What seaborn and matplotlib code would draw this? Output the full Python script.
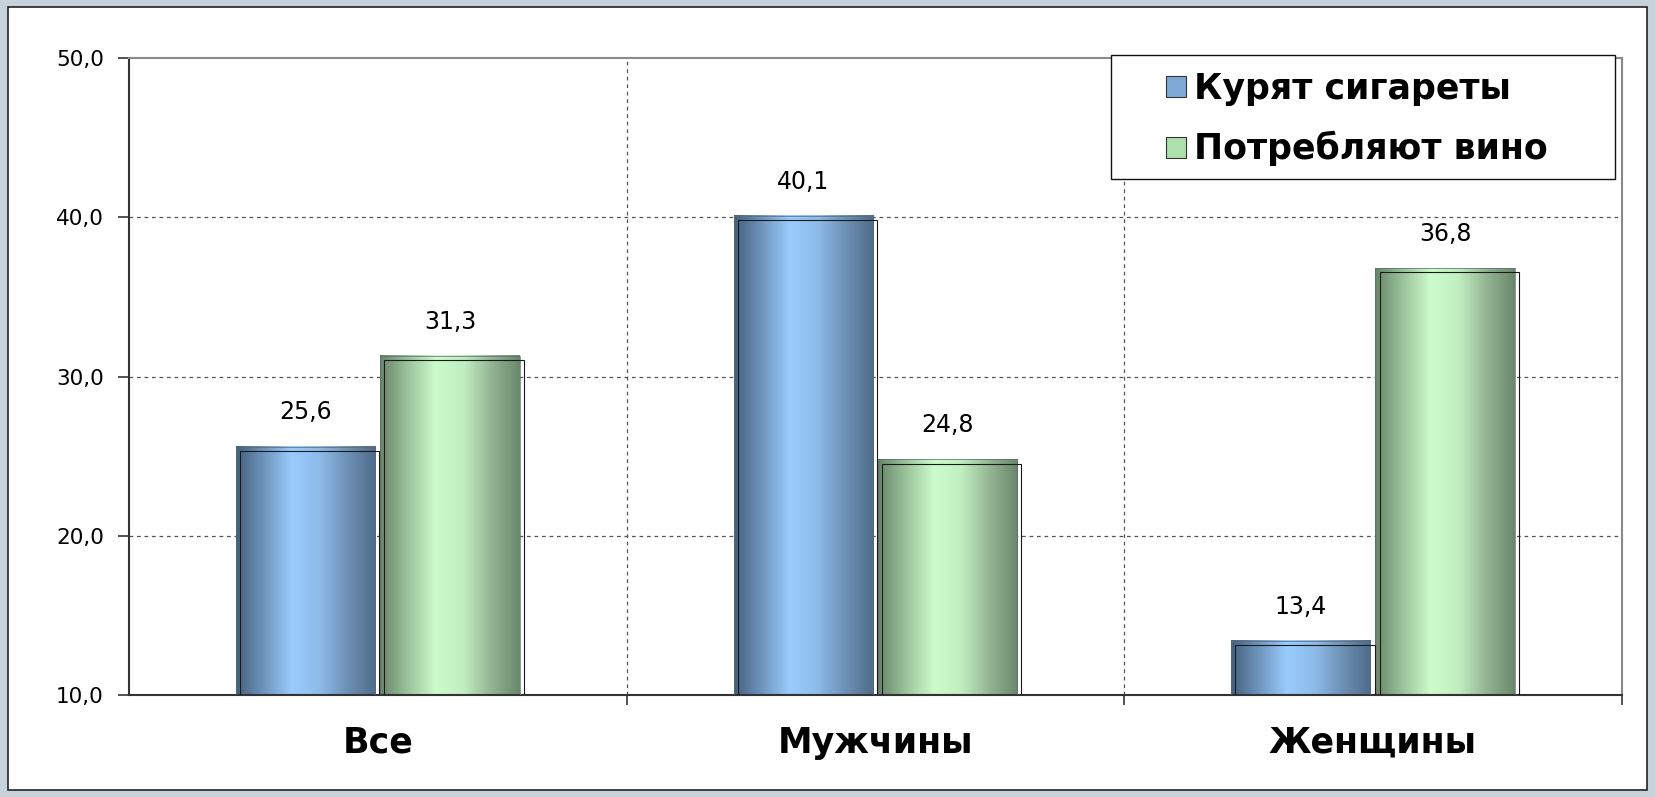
import numpy as np
import pandas as pd
import matplotlib
matplotlib.use("Agg")
import matplotlib.pyplot as plt
import seaborn as sns
from matplotlib.colors import LinearSegmentedColormap
from matplotlib.patches import Patch, Rectangle
from matplotlib.transforms import ScaledTranslation

categories = ["Все", "Мужчины", "Женщины"]
series = ["Курят сигареты", "Потребляют вино"]
smoke = [25.6, 40.1, 13.4]
wine = [31.3, 24.8, 36.8]
yticks = [10, 20, 30, 40, 50]

df = pd.DataFrame({
    "group": categories * 2,
    "kind": [series[0]] * 3 + [series[1]] * 3,
    "value": smoke + wine,
})

sns.set_style("white")
plt.rcParams["font.family"] = ["DejaVu Sans"]
plt.rcParams["text.color"] = "black"
plt.rcParams["xtick.color"] = "black"
plt.rcParams["ytick.color"] = "black"

fig = plt.figure(figsize=(16.55, 7.97), dpi=100)
fig.patch.set_facecolor("#c7d2da")
# white inner panel with thin border
fig.patches.append(Rectangle((8 / 1655, 7 / 797), 1639 / 1655, 783 / 797,
                             transform=fig.transFigure, facecolor="white",
                             edgecolor="#222222", linewidth=1.2, zorder=-5))
ax = fig.add_axes([0.0779, 0.128, 0.902, 0.799])
ax.set_facecolor("white")

sns.barplot(data=df, x="group", y="value", hue="kind", order=categories,
            hue_order=series, width=0.58, gap=0.035, ax=ax, legend=False)

ax.set_xlim(-0.5, 2.5)
ax.set_ylim(yticks[0], yticks[-1])
ybase = ax.get_ylim()[0]

# cylinder-like shading of the bars
cmaps = {
    series[0]: LinearSegmentedColormap.from_list(
        "blue", ["#45607d", "#6f95bd", "#99ccff", "#8dbbe9", "#6d90b4", "#4e6c8a"]),
    series[1]: LinearSegmentedColormap.from_list(
        "green", ["#68856a", "#9cc49c", "#ccfccc", "#c0eec0", "#93b493", "#6a876a"]),
}
grad = np.linspace(0, 1, 256).reshape(1, -1)
shift = ax.transData + ScaledTranslation(3 / 72, -3 / 72, fig.dpi_scale_trans)
for container, name in zip(ax.containers, series):
    for bar in container:
        x0, w, h = bar.get_x(), bar.get_width(), bar.get_height()
        ax.imshow(grad, cmap=cmaps[name], aspect="auto",
                  extent=[x0, x0 + w, ybase, h], zorder=2)
        bar.set_facecolor("none")
        bar.set_edgecolor("#5a6a78")
        bar.set_linewidth(0.5)
        bar.set_zorder(3)
        # offset outline like the 3D bar edge in the original
        ax.add_patch(Rectangle((x0, ybase), w, h - ybase, fill=False,
                               edgecolor="#1a1a1a", linewidth=0.8,
                               transform=shift, zorder=3))
    labels = [f"{v:.1f}".replace(".", ",") for v in container.datavalues]
    ax.bar_label(container, labels=labels, padding=16, fontsize=17, color="black")

ax.set_xlim(-0.5, 2.5)
ax.set_ylim(yticks[0], yticks[-1])
ax.set_yticks(yticks)
ax.set_yticklabels([f"{t:.1f}".replace(".", ",") for t in yticks], fontsize=15.5)
ax.set_xticks(range(3))
ax.set_xticklabels(categories, fontsize=25, fontweight="bold")
ax.set_xticks([0.5, 1.5, 2.5], minor=True)
ax.tick_params(axis="x", which="major", length=0, pad=22)
ax.tick_params(axis="x", which="minor", length=7, width=1.2, color="#333333", bottom=True)
ax.tick_params(axis="y", length=8, width=1.2, color="#333333", pad=10, left=True)
ax.set_xlabel("")
ax.set_ylabel("")

for y in yticks[1:-1]:
    ax.axhline(y, color="#555555", linestyle=(0, (3, 3)), linewidth=0.9, zorder=1)
for x in [0.5, 1.5]:
    ax.axvline(x, color="#555555", linestyle=(0, (3, 3)), linewidth=0.9, zorder=1)

for side in ["left", "bottom"]:
    ax.spines[side].set_color("#333333")
    ax.spines[side].set_linewidth(1.5)
for side in ["top", "right"]:
    ax.spines[side].set_color("#8a8a8a")
    ax.spines[side].set_linewidth(1.5)

# legend box drawn separately so its padding matches the original
ax.add_patch(Rectangle((0.658, 0.81), 0.3373, 0.1947, transform=ax.transAxes,
                       facecolor="white", edgecolor="#111111", linewidth=1.0,
                       zorder=4, clip_on=False))
handles = [Patch(facecolor="#7fa9d6", edgecolor="#333333", linewidth=0.8),
           Patch(facecolor="#aee0ae", edgecolor="#333333", linewidth=0.8)]
leg = ax.legend(handles, series, loc="upper left", bbox_to_anchor=(0.695, 0.978),
                borderaxespad=0, frameon=False, borderpad=0,
                prop={"size": 25, "weight": "bold"}, handlelength=0.55,
                handleheight=0.55, handletextpad=0.25, labelspacing=0.72)
leg.set_zorder(5)

fig.savefig("out.png", dpi=100, facecolor=fig.get_facecolor())
